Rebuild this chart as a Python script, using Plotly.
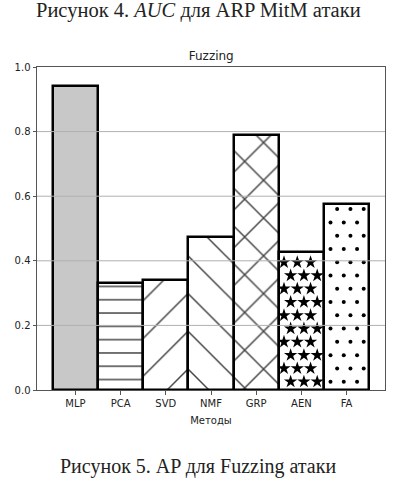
import numpy as np
import plotly.graph_objects as go

# ---- data ----
methods = ["MLP", "PCA", "SVD", "NMF", "GRP", "AEN", "FA"]
ap_values = [0.941, 0.332, 0.341, 0.474, 0.788, 0.428, 0.576]
y_ticks = [0.0, 0.2, 0.4, 0.6, 0.8, 1.0]
chart_title = "Fuzzing"
x_title = "Методы"
caption_top = "Рисунок 4. <i>AUC</i> для ARP MitM атаки"
caption_bottom = "Рисунок 5. AP для Fuzzing атаки"

# ---- styles ----
fill_colors = ["#c8c8c8", "white", "white", "white", "white", "white", "white"]
pat_shapes = ["", "-", "/", "\\", "x", "", ""]
pat_sizes = [10, 13.3, 26.7, 26.7, 26.7, 10, 10]
pat_solid = [0.2, 0.11, 0.055, 0.055, 0.105, 0.2, 0.2]

W, H = 397, 483
L, R, T, B = 37, 11.5, 66.7, 93
xr = [-0.85, 6.85]

x_idx = list(range(len(methods)))

fig = go.Figure()
fig.add_trace(go.Bar(
    x=x_idx, y=ap_values, width=1.0,
    marker=dict(
        color=fill_colors,
        line=dict(color="black", width=2.5),
        pattern=dict(shape=pat_shapes, size=pat_sizes, solidity=pat_solid,
                     fgcolor="#111", fgopacity=1, fillmode="overlay"),
    ),
    hoverinfo="x+y", showlegend=False,
))

# star / dot hatch textures built on a staggered lattice, clipped to the bar
x0, dx = 4.762, 0.294
y0, dy = 0.0257, 0.0411


def lattice(i, top, mx, my):
    xs, ys = [], []
    for k in range(40):
        yy = y0 + k * dy
        if yy > top - my:
            break
        shift = 0 if k % 2 == 0 else -dx / 2
        for j in range(-40, 40):
            xx = x0 + shift + j * dx
            if abs(xx - i) <= 0.5 - mx:
                xs.append(xx)
                ys.append(yy)
    return xs, ys


hatch_markers = {"AEN": ("star", 10, 0.08), "FA": ("circle", 4, 0.05)}
for name, (sym, sz, mx) in hatch_markers.items():
    i = methods.index(name)
    xs, ys = lattice(i, ap_values[i], mx, 0.01)
    fig.add_trace(go.Scatter(
        x=xs, y=ys, mode="markers",
        marker=dict(symbol=sym, size=sz, color="black", line=dict(width=0)),
        hoverinfo="skip", showlegend=False,
    ))

# horizontal grid drawn above the bars (as in the reference)
shapes = []
for t in y_ticks[1:-1]:
    shapes.append(dict(type="line", xref="paper", yref="y", x0=0, x1=1, y0=t, y1=t,
                       line=dict(color="#b0b0b0", width=1), layer="above"))

fig.update_layout(
    width=W, height=H,
    margin=dict(l=L, r=R, t=T, b=B),
    paper_bgcolor="white", plot_bgcolor="white",
    font=dict(family="DejaVu Sans", size=10, color="#222"),
    bargap=0,
    shapes=shapes,
    title=dict(text=chart_title, x=(L + (W - L - R) / 2) / W, xanchor="center",
               y=1 - 56 / H, yanchor="middle",
               font=dict(family="DejaVu Sans", size=12, color="#222")),
    xaxis=dict(
        range=xr, tickmode="array", tickvals=x_idx, ticktext=methods,
        showgrid=False, zeroline=False,
        showline=True, mirror=True, linecolor="#555", linewidth=1,
        ticks="outside", ticklen=3.5, tickcolor="#555", tickwidth=1,
        title=dict(text=x_title, standoff=9, font=dict(size=10)),
        layer="above traces", automargin=False,
    ),
    yaxis=dict(
        range=[0, 1], tickmode="array", tickvals=y_ticks,
        ticktext=[f"{v:.1f}" for v in y_ticks],
        showgrid=False, zeroline=False,
        showline=True, mirror=True, linecolor="#555", linewidth=1,
        ticks="outside", ticklen=3.5, tickcolor="#555", tickwidth=1,
        layer="above traces", automargin=False,
    ),
    annotations=[
        dict(text=caption_top, xref="paper", yref="paper", x=(W / 2 - L) / (W - L - R),
             y=1 + (T - 10) / (H - T - B), xanchor="center", yanchor="middle",
             showarrow=False, font=dict(family="Liberation Serif", size=20.5, color="#222")),
        dict(text=caption_bottom, xref="paper", yref="paper", x=(W / 2 - L) / (W - L - R),
             y=-(467 - (H - B)) / (H - T - B), xanchor="center", yanchor="middle",
             showarrow=False, font=dict(family="Liberation Serif", size=20, color="#222")),
    ],
)

fig.write_html("out.html", config={"displayModeBar": False},
               post_script="document.body.style.margin='0';")
